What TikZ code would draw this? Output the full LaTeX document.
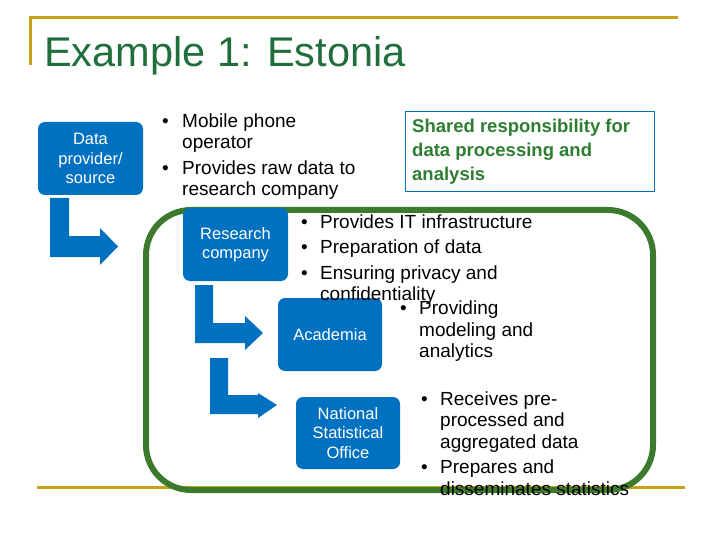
\documentclass[tikz,border=0pt]{standalone}
\usepackage{fontspec}
\setmainfont{Liberation Sans}
\definecolor{bbl}{HTML}{0070C0}
\definecolor{grn}{HTML}{3C7A2E}
\definecolor{ttl}{HTML}{1F6E3C}
\definecolor{gold}{HTML}{C9A21A}
\definecolor{sgrn}{HTML}{2E7D32}
\begin{document}
\begin{tikzpicture}[x=1pt,y=-1pt,
  box/.style={fill=bbl,rounded corners=7pt,text=white,font=\fontsize{16.5}{19.5}\selectfont,align=center,inner sep=0pt},
  ln/.style={anchor=base west,inner sep=0pt,font=\fontsize{19}{21}\selectfont},
  sln/.style={anchor=base west,inner sep=0pt,text=sgrn,font=\bfseries\fontsize{18.5}{21}\selectfont}]
\useasboundingbox (0,0) rectangle (720,540);
% frame lines
\draw[gold,line width=3pt] (30,65) -- (30,18) -- (678,18);
\draw[gold,line width=3pt] (37,487) -- (685,487);
\node[anchor=base west,inner sep=0pt,text=ttl,font=\fontsize{41.5}{45}\selectfont] (title) at (44,67) {Example 1: Estonia};
% green rect
\draw[grn,line width=6pt,rounded corners=45pt] (146,210) rectangle (653,490);
% boxes
\node[box,minimum width=105pt,minimum height=73pt] (dp) at (90.5,158.5) {Data\\provider/\\source};
\node[box,minimum width=105pt,minimum height=73pt] (rc) at (235.5,244.5) {Research\\company};
\node[box,minimum width=104pt,minimum height=73pt] (ac) at (330,334.5) {Academia};
\node[box,minimum width=104pt,minimum height=72pt] (nso) at (348,433) {National\\Statistical\\Office};
\node[draw=bbl,line width=0.8pt,minimum width=249pt,minimum height=80pt,inner sep=0pt] (sh) at (529.5,151) {};
\node[sln] (s1) at (412,133) {Shared responsibility for};
\node[sln] (s2) at (412,157) {data processing and};
\node[sln] (s3) at (412,181) {analysis};
% group 1
\node[ln] (b1a) at (162,128) {•};
\node[ln] (t1a) at (182,128) {Mobile phone};
\node[ln] (t1a2) at (182,149) {operator};
\node[ln] (b1b) at (162,175) {•};
\node[ln] (t1b) at (182,175) {Provides raw data to};
\node[ln] (t1b2) at (182,196) {research company};
% group 2
\node[ln] (b2a) at (301,229) {•};
\node[ln] (t2a) at (320,229) {Provides IT infrastructure};
\node[ln] (b2b) at (301,254) {•};
\node[ln] (t2b) at (320,254) {Preparation of data};
\node[ln] (b2c) at (301,279) {•};
\node[ln] (t2c) at (320,279) {Ensuring privacy and};
\node[ln] (t2c2) at (320,300) {confidentiality};
% group 3
\node[ln] (b3) at (400,314) {•};
\node[ln] (t3) at (419,314) {Providing};
\node[ln] (t3b) at (419,336) {modeling and};
\node[ln] (t3c) at (419,357) {analytics};
% group 4
\node[ln] (b4a) at (421,405) {•};
\node[ln] (t4a) at (440,405) {Receives pre-};
\node[ln] (t4a2) at (440,426) {processed and};
\node[ln] (t4a3) at (440,448) {aggregated data};
\node[ln] (b4b) at (421,473) {•};
\node[ln] (t4b) at (440,473) {Prepares and};
\node[ln] (t4b2) at (440,495) {disseminates statistics};
% L arrows
\fill[bbl] (50,198) -- (69,198) -- (69,236) -- (100,236) -- (100,228) -- (118,246.5) -- (100,265) -- (100,257) -- (50,257) -- cycle;
\fill[bbl] (195,285) -- (213,285) -- (213,323) -- (245,323) -- (245,316) -- (263,333) -- (245,350) -- (245,343) -- (195,343) -- cycle;
\fill[bbl] (210,358) -- (228,358) -- (228,395) -- (258,395) -- (258,393) -- (277,405) -- (258,418) -- (258,414) -- (210,414) -- cycle;
\end{tikzpicture}
\end{document}
